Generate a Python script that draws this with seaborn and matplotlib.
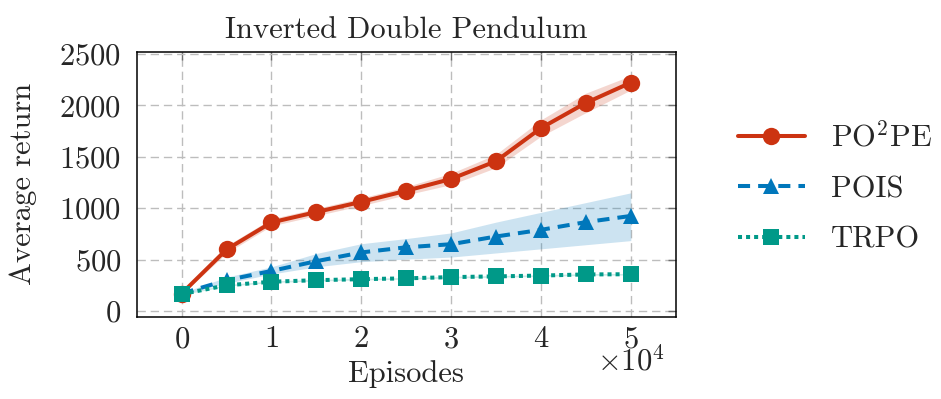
import numpy as np
import pandas as pd
import matplotlib
matplotlib.use("Agg")
import matplotlib.pyplot as plt
import seaborn as sns
from matplotlib.ticker import ScalarFormatter
import matplotlib.transforms as mtransforms

# ---------------- data ----------------
episodes = [0, 5000, 10000, 15000, 20000, 25000, 30000, 35000, 40000, 45000, 50000]

po2pe_mean = [170, 599, 862, 963, 1062, 1170, 1285, 1458, 1780, 2025, 2222]
po2pe_lo = [160, 565, 828, 928, 1025, 1130, 1230, 1395, 1700, 1930, 2150]
po2pe_hi = [180, 635, 898, 998, 1100, 1210, 1340, 1525, 1860, 2120, 2290]

pois_mean = [170, 300, 390, 485, 570, 620, 650, 725, 790, 865, 925]
pois_lo = [165, 270, 360, 430, 480, 505, 525, 565, 605, 645, 685]
pois_hi = [175, 330, 430, 560, 655, 705, 760, 865, 960, 1055, 1150]

trpo_mean = [165, 250, 285, 300, 310, 318, 330, 337, 345, 356, 358]
trpo_lo = [158, 242, 277, 292, 302, 310, 322, 329, 337, 348, 350]
trpo_hi = [172, 258, 293, 308, 318, 326, 338, 345, 353, 364, 366]

methods = ["PO$^2$PE", "POIS", "TRPO"]
colors = ["#CC3311", "#0077BB", "#009988"]
title = "Inverted Double Pendulum"
xlabel = "Episodes"
ylabel = "Average return"
x_multiplier = r"$\times10^{4}$"

# ---------------- style ----------------
sns.set_theme(style="white")
plt.rcParams["font.family"] = ["cmr10", "DejaVu Serif"]
plt.rcParams["mathtext.fontset"] = "cm"
plt.rcParams["axes.formatter.use_mathtext"] = True
plt.rcParams["axes.unicode_minus"] = False
FS = 22

fig = plt.figure(figsize=(9.41, 3.99), dpi=100)
ax = fig.add_axes([0.1453, 0.2063, 0.5728, 0.6634])

df = pd.concat([
    pd.DataFrame({"Episodes": episodes, "ret": po2pe_mean, "method": methods[0]}),
    pd.DataFrame({"Episodes": episodes, "ret": pois_mean, "method": methods[1]}),
    pd.DataFrame({"Episodes": episodes, "ret": trpo_mean, "method": methods[2]}),
], ignore_index=True)

bands = [(po2pe_lo, po2pe_hi), (pois_lo, pois_hi), (trpo_lo, trpo_hi)]
for (lo, hi), c in zip(bands, colors):
    ax.fill_between(episodes, lo, hi, color=c, alpha=0.2, linewidth=0, zorder=1)

sns.lineplot(data=df, x="Episodes", y="ret", hue="method", style="method",
             hue_order=methods, style_order=methods,
             palette=dict(zip(methods, colors)),
             markers={methods[0]: "o", methods[1]: "^", methods[2]: "s"},
             dashes={methods[0]: "", methods[1]: (3, 2), methods[2]: (1, 1)},
             linewidth=2.9, markersize=12, markeredgewidth=0,
             legend=False, ax=ax, zorder=3)

for ln, ms in zip(ax.lines, [12.5, 12, 12]):
    ln.set_markersize(ms)

ax.set_xlim(-5000, 55000)
ax.set_ylim(-55, 2520)
ax.set_xticks([0, 10000, 20000, 30000, 40000, 50000])
ax.set_yticks([0, 500, 1000, 1500, 2000, 2500])

fmt = ScalarFormatter(useMathText=True)
fmt.set_powerlimits((0, 0))
ax.xaxis.set_major_formatter(fmt)
ax.xaxis.get_offset_text().set_visible(False)

ax.grid(True, color="#bdbdbd", linestyle=(0, (6, 3.5)), linewidth=1.0, zorder=0)
ax.set_axisbelow(True)
for s in ax.spines.values():
    s.set_color("black")
    s.set_linewidth(1.1)
ax.tick_params(direction="in", length=6, width=1.0, color="#6f6f6f",
               top=True, right=True, labelsize=FS, pad=6.5)
ax.tick_params(axis="y", pad=11)

ax.set_title(title, fontsize=FS, pad=10)
ax.set_xlabel(xlabel, fontsize=FS, labelpad=5)
ax.set_ylabel(ylabel, fontsize=FS, labelpad=16)

trans = mtransforms.blended_transform_factory(ax.transAxes, fig.transFigure)
ax.text(0.9165, 1 - 370 / 399, x_multiplier, transform=trans, fontsize=FS,
        ha="center", va="baseline")

ax.legend(handles=ax.lines[:3], labels=methods, loc="center left",
          bbox_to_anchor=(0.784, 0.53), bbox_transform=fig.transFigure,
          frameon=False, fontsize=FS, handlelength=2.2, handletextpad=0.85,
          labelspacing=0.75, borderaxespad=0, borderpad=0)

fig.savefig("out.png", dpi=100)
